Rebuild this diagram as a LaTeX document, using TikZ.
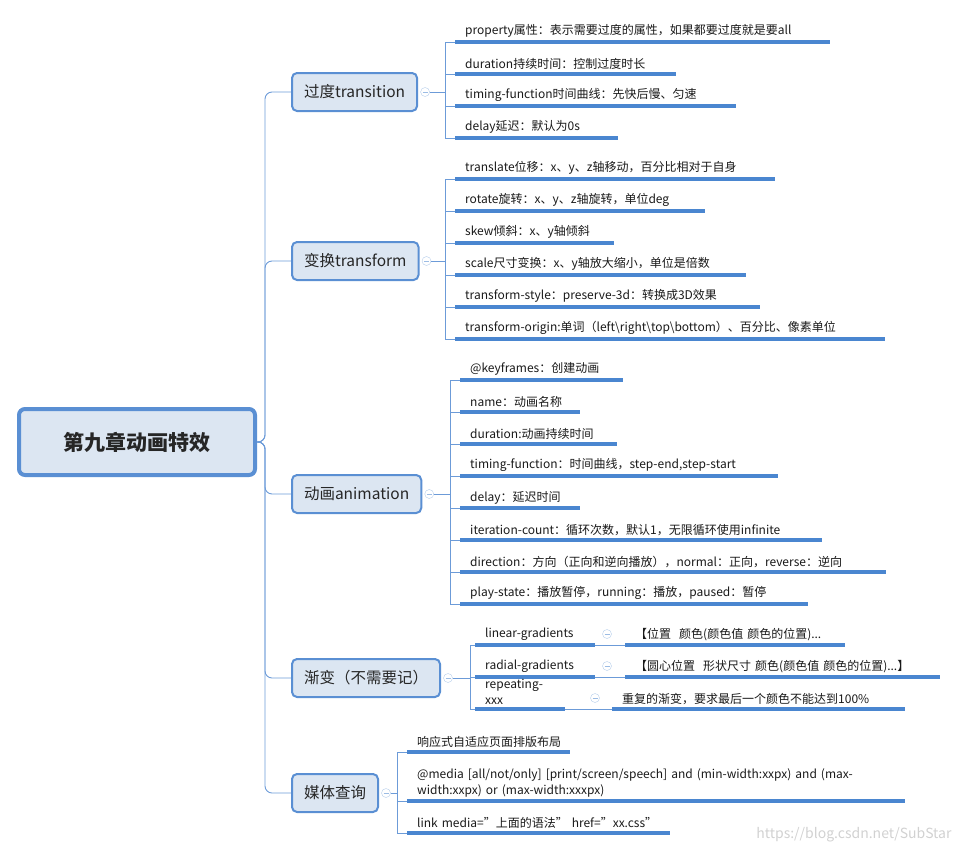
\documentclass[tikz,border=0pt]{standalone}
\usepackage{fontspec}
\setmainfont{Noto Sans CJK SC}
\definecolor{boxfill}{HTML}{DCE6F2}
\definecolor{boxline}{HTML}{5A8FD3}
\definecolor{ulinecol}{HTML}{4A86D0}
\definecolor{conncol}{HTML}{6C9BD8}
\tikzset{
    rootbox/.style={draw=boxline, line width=4pt, fill=boxfill, rounded corners=6pt,
        minimum width=236pt, minimum height=66pt, font=\fontsize{21}{24}\selectfont\bfseries, text=black!85},
    mainbox/.style={draw=boxline, line width=2pt, fill=boxfill, rounded corners=5pt,
        minimum height=38pt, inner xsep=12pt, font=\fontsize{15.5}{18}\selectfont, text=black!85},
    leaf/.style={anchor=south west, inner xsep=10pt, inner ysep=4pt, align=left,
        font=\fontsize{12}{16}\selectfont, text=black!90},
    uline/.style={draw=ulinecol, line width=3.2pt},
    conn/.style={draw=conncol, line width=0.9pt},
    fold/.style={circle, draw=boxline!45, fill=white, inner sep=0pt, minimum size=9pt,
        path picture={\draw[boxline!60, line width=0.6pt] ([xshift=-2.5pt]path picture bounding box.center) -- ([xshift=2.5pt]path picture bounding box.center);}},
}
\begin{document}
\begin{tikzpicture}[x=1pt, y=-1pt]
    \useasboundingbox (0,0) rectangle (957,851);
    % root and main topics
    \node[rootbox] (root) at (137,442) {第九章动画特效};
    \node[mainbox, anchor=west] (trans) at (291,92) {过度transition};
    \node[mainbox, anchor=west] (transf) at (291,261) {变换transform};
    \node[mainbox, anchor=west] (anim) at (291,494) {动画animation};
    \node[mainbox, anchor=west] (grad) at (291,678) {渐变（不需要记）};
    \node[mainbox, anchor=west] (media) at (291,793) {媒体查询};
    \foreach \m in {trans,transf,anim,grad,media}
        \draw[conn, rounded corners=7pt] (root.east) -- (265,442) |- (\m.west);
    % fold circles and hubs
    \node[fold] (trans-f) at ([xshift=7pt]trans.east) {};
    \node[fold] (transf-f) at ([xshift=7pt]transf.east) {};
    \node[fold] (anim-f) at ([xshift=7pt]anim.east) {};
    \node[fold] (grad-f) at ([xshift=7pt]grad.east) {};
    \node[fold] (media-f) at ([xshift=7pt]media.east) {};
    \coordinate (trans-h) at (445,92);
    \coordinate (transf-h) at (445,261);
    \coordinate (anim-h) at (450,494);
    \coordinate (grad-h) at (470,678);
    \coordinate (media-h) at (397,793);
    \foreach \m in {trans,transf,anim,grad,media}
        \draw[conn] (\m-f) -- (\m-h);
    % transition
    \foreach \i/\y/\xe/\txt in {1/42/830/{property属性：表示需要过度的属性，如果都要过度就是要all},
        2/74/676/{duration持续时间：控制过度时长},
        3/106/736/{timing-function时间曲线：先快后慢、匀速},
        4/138/618/{delay延迟：默认为0s}} {
        \pgfmathsetmacro\w{\xe-455-20}
        \node[leaf, text width=\w pt] (trans-\i) at (455,\y) {\txt};
        \draw[uline] (trans-\i.south west) -- (trans-\i.south east);
        \draw[conn] (trans-h) |- (trans-\i.south west);
    }
    % transform
    \foreach \i/\y/\xe/\txt in {1/179/775/{translate位移：x、y、z轴移动，百分比相对于自身},
        2/211/705/{rotate旋转：x、y、z轴旋转，单位deg},
        3/243/614/{skew倾斜：x、y轴倾斜},
        4/275/746/{scale尺寸变换：x、y轴放大缩小，单位是倍数},
        5/307/760/{transform-style：preserve-3d：转换成3D效果},
        6/339/885/{transform-origin:单词（left\textbackslash right\textbackslash top\textbackslash bottom）、百分比、像素单位}} {
        \pgfmathsetmacro\w{\xe-455-20}
        \node[leaf, text width=\w pt] (transf-\i) at (455,\y) {\txt};
        \draw[uline] (transf-\i.south west) -- (transf-\i.south east);
        \draw[conn] (transf-h) |- (transf-\i.south west);
    }
    % animation
    \foreach \i/\y/\xe/\txt in {1/380/623/{@keyframes：创建动画},
        2/412/580/{name：动画名称},
        3/444/617/{duration:动画持续时间},
        4/476/778/{timing-function：时间曲线，step-end,step-start},
        5/508/580/{delay：延迟时间},
        6/540/822/{iteration-count：循环次数，默认1，无限循环使用infinite},
        7/572/886/{direction：方向（正向和逆向播放），normal：正向，reverse：逆向},
        8/604/808/{play-state：播放暂停，running：播放，paused：暂停}} {
        \pgfmathsetmacro\w{\xe-460-20}
        \node[leaf, text width=\w pt] (anim-\i) at (460,\y) {\txt};
        \draw[uline] (anim-\i.south west) -- (anim-\i.south east);
        \draw[conn] (anim-h) |- (anim-\i.south west);
    }
    % gradients
    \foreach \i/\y/\xa/\xc/\xs/\xe/\txt/\sub in {1/645/595/607/625/845/{linear-gradients}/{【位置~ 颜色(颜色值 颜色的位置)...},
        2/677/595/607/625/940/{radial-gradients}/{【圆心位置~ 形状尺寸 颜色(颜色值 颜色的位置)...】},
        3/709/565/595/612/905/{repeating-xxx}/{重复的渐变，要求最后一个颜色不能达到100\%}} {
        \pgfmathsetmacro\w{\xa-475-20}
        \node[leaf, text width=\w pt] (grad-\i) at (475,\y) {\txt};
        \draw[uline] (grad-\i.south west) -- (grad-\i.south east);
        \draw[conn] (grad-h) |- (grad-\i.south west);
        \pgfmathsetmacro\w{\xe-\xs-20}
        \node[leaf, text width=\w pt] (grad-\i-s) at (\xs,\y) {\sub};
        \draw[uline] (grad-\i-s.south west) -- (grad-\i-s.south east);
        \draw[conn] (grad-\i.south east) -- (grad-\i-s.south west);
        \node[fold] (grad-\i-f) at (\xc,\y-11) {};
    }
    % media queries
    \node[leaf, text width=143pt] (media-1) at (407,752) {响应式自适应页面排版布局};
    \node[leaf, text width=478pt] (media-2) at (407,801) {@media [all/not/only] [print/screen/speech] and (min-width:xxpx) and (max-\\width:xxpx) or (max-width:xxxpx)};
    \node[leaf, text width=243pt] (media-3) at (407,833) {link media="上面的语法" href="xx.css"};
    \foreach \i in {1,2,3} {
        \draw[uline] (media-\i.south west) -- (media-\i.south east);
        \draw[conn] (media-h) |- (media-\i.south west);
    }
    \node[anchor=south east, text=black!18, font=\fontsize{14}{16}\selectfont] (mark) at (955,846) {https://blog.csdn.net/SubStar};
\end{tikzpicture}
\end{document}
